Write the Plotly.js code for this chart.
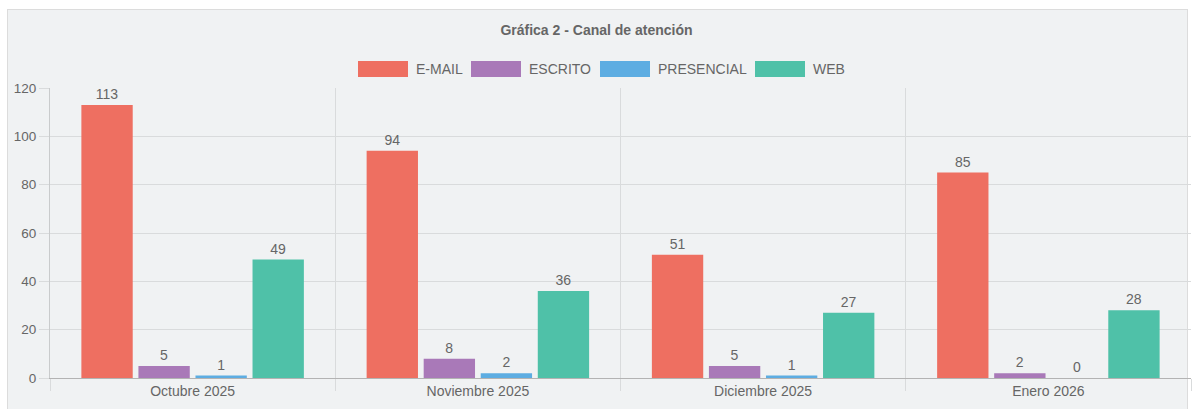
<!DOCTYPE html>
<html>
<head>
<meta charset="utf-8">
<script src="https://cdn.plot.ly/plotly-3.0.1.min.js"></script>
<style>
  html, body { margin: 0; padding: 0; background: #ffffff; width: 1193px; height: 409px; overflow: hidden; }
  #card { position: absolute; left: 7px; top: 9px; width: 1181px; height: 410px; background: #f0f2f3; border: 1px solid #dcdcdc; box-sizing: border-box; }
  #chart { position: absolute; left: 0; top: 0; width: 1193px; height: 409px; }
</style>
</head>
<body>
<div id="card"></div>
<div id="chart"></div>
<script>
// ---- data ----
const categories = ["Octubre 2025", "Noviembre 2025", "Diciembre 2025", "Enero 2026"];
const seriesNames = ["E-MAIL", "ESCRITO", "PRESENCIAL", "WEB"];
const email = [113, 94, 51, 85];
const escrito = [5, 8, 5, 2];
const presencial = [1, 2, 1, 0];
const web = [49, 36, 27, 28];
const yTicks = [0, 20, 40, 60, 80, 100, 120];

// ---- styles ----
const colors = ["#EE6F61", "#A979B8", "#5DADE2", "#4FC1A8"];
const seriesValues = [email, escrito, presencial, web];
const fontFamily = "Liberation Sans, Arial, Helvetica, sans-serif";
const textColor = "#666666";

const W = 1193, H = 409;
const M = { l: 50, r: 2, t: 88, b: 31 };
const plotW = W - M.l - M.r, plotH = H - M.t - M.b;
const px2x = p => (p - M.l) / plotW;
const py2y = p => (H - M.b - p) / plotH;

const traces = seriesNames.map((name, i) => ({
  type: "bar",
  name: name,
  x: categories,
  y: seriesValues[i],
  marker: { color: colors[i], line: { width: 0 } },
  text: seriesValues[i].map(String),
  textposition: "outside",
  textfont: { family: fontFamily, size: 14, color: textColor },
  cliponaxis: false,
  hoverinfo: "x+y+name",
  showlegend: false
}));

// custom legend (wide colour boxes like the original)
const legendBoxes = [358, 471, 600, 755];   // left edge px of each box
const boxW = 50, boxTop = 61, boxBot = 77;
const shapes = [];
const annotations = [];
seriesNames.forEach((name, i) => {
  shapes.push({
    type: "rect", xref: "paper", yref: "paper",
    x0: px2x(legendBoxes[i]), x1: px2x(legendBoxes[i] + boxW),
    y0: py2y(boxBot), y1: py2y(boxTop),
    fillcolor: colors[i], line: { width: 0 }, layer: "above"
  });
  annotations.push({
    xref: "paper", yref: "paper",
    x: px2x(legendBoxes[i] + boxW + 6), y: py2y((boxTop + boxBot) / 2),
    xanchor: "left", yanchor: "middle",
    text: name, showarrow: false,
    font: { family: fontFamily, size: 14, color: textColor }
  });
});

const layout = {
  width: W, height: H,
  margin: M,
  paper_bgcolor: "rgba(0,0,0,0)",
  plot_bgcolor: "rgba(0,0,0,0)",
  font: { family: fontFamily, size: 14, color: textColor },
  title: {
    text: "Gráfica 2 - Canal de atención",
    font: { family: fontFamily, size: 14, color: textColor, weight: "bold" },
    x: 0.5, xanchor: "center",
    y: 1 - 30.5 / H, yanchor: "middle", yref: "container"
  },
  barmode: "group",
  bargap: 0.2,
  bargroupgap: 0.1,
  xaxis: {
    type: "category",
    tickson: "boundaries",
    showgrid: true,
    gridcolor: "#d9dbdc",
    gridwidth: 1,
    ticks: "outside",
    ticklen: 12,
    tickcolor: "#d9dbdc",
    showline: true,
    linecolor: "#b3b3b3",
    tickfont: { family: fontFamily, size: 14, color: textColor },
    fixedrange: true
  },
  yaxis: {
    range: [0, 120],
    tickvals: yTicks,
    ticktext: yTicks.map(String),
    showgrid: true,
    gridcolor: "#d9dbdc",
    zeroline: true,
    zerolinecolor: "#b3b3b3",
    zerolinewidth: 1,
    showline: true,
    linecolor: "#c9cbcc",
    ticks: "outside",
    ticklen: 10,
    tickcolor: "#d9dbdc",
    tickfont: { family: fontFamily, size: 13.5, color: textColor },
    fixedrange: true
  },
  shapes: shapes,
  annotations: annotations,
  showlegend: false
};

Plotly.newPlot("chart", traces, layout, { displayModeBar: false, staticPlot: true });
</script>
</body>
</html>
